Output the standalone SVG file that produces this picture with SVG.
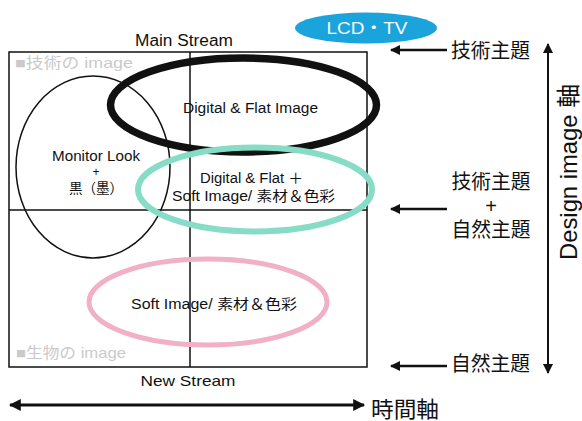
<svg xmlns="http://www.w3.org/2000/svg" width="582" height="421" viewBox="0 0 582 421">
<style>
  .t{font-family:"Liberation Sans","Noto Sans CJK JP",sans-serif;fill:#111}
  .s{font-size:14px;text-anchor:middle}
  .ax{font-size:20px}
  .g{font-size:15px;fill:#cacaca}
  .ln{stroke:#111;fill:none}
</style>
<defs>
  <marker id="ah" viewBox="0 0 10 10" refX="9" refY="5" markerWidth="4" markerHeight="4" orient="auto-start-reverse" markerUnits="strokeWidth">
    <path d="M0,0 L10,5 L0,10 z" fill="#111"/>
  </marker>
  <marker id="ah2" viewBox="0 0 10 10" refX="9" refY="5" markerWidth="5" markerHeight="5" orient="auto-start-reverse" markerUnits="strokeWidth">
    <path d="M0,0 L10,5 L0,10 z" fill="#111"/>
  </marker>
</defs>
<rect width="582" height="421" fill="#fff"/>

<g id="frame">
  <rect x="9" y="52" width="358" height="315" class="ln" stroke-width="1.5"/>
  <line x1="190" y1="52" x2="190" y2="367" class="ln" stroke-width="1.5"/>
  <line x1="9" y1="210" x2="367" y2="210" class="ln" stroke-width="1.5"/>
  <text x="15" y="68" class="t g" textLength="118" lengthAdjust="spacingAndGlyphs">■技術の image</text>
  <text x="16" y="358" class="t g" textLength="110" lengthAdjust="spacingAndGlyphs">■生物の image</text>
  <text x="184" y="46" class="t" font-size="16" text-anchor="middle" textLength="98" lengthAdjust="spacingAndGlyphs">Main Stream</text>
  <text x="188" y="386" class="t" font-size="15" text-anchor="middle" textLength="95" lengthAdjust="spacingAndGlyphs">New Stream</text>
</g>

<g id="lcd-tv">
  <ellipse cx="366" cy="28" rx="71" ry="15.5" fill="#1ba3dc"/>
  <text x="367" y="34" font-family="Liberation Sans, Noto Sans CJK JP, sans-serif" font-size="17" fill="#fff" text-anchor="middle" textLength="81" lengthAdjust="spacingAndGlyphs">LCD・TV</text>
</g>

<g id="monitor-look">
  <ellipse cx="93" cy="167" rx="77" ry="91" class="ln" stroke-width="1.5"/>
  <text x="96" y="161" class="t s" textLength="88" lengthAdjust="spacingAndGlyphs">Monitor Look</text>
  <text x="96" y="176" class="t" font-size="12" text-anchor="middle">+</text>
  <text x="96" y="193" class="t s" textLength="54" lengthAdjust="spacingAndGlyphs">黒（墨）</text>
</g>

<g id="digital-flat">
  <ellipse cx="243.5" cy="105" rx="133" ry="47" class="ln" stroke-width="7.5"/>
  <text x="250.5" y="113" class="t s" textLength="135" lengthAdjust="spacingAndGlyphs">Digital &amp; Flat Image</text>
</g>

<g id="digital-soft">
  <ellipse cx="255" cy="189.5" rx="117" ry="42" fill="none" stroke="#86dcc6" stroke-width="6"/>
  <text x="251.5" y="183" class="t s" textLength="103" lengthAdjust="spacingAndGlyphs">Digital &amp; Flat ＋</text>
  <text x="253.5" y="201" class="t s" textLength="163" lengthAdjust="spacingAndGlyphs">Soft Image/ 素材＆色彩</text>
</g>

<g id="soft-image">
  <ellipse cx="208" cy="302" rx="119" ry="43" fill="none" stroke="#f2b0c6" stroke-width="5"/>
  <text x="214" y="309" class="t s" textLength="166" lengthAdjust="spacingAndGlyphs">Soft Image/ 素材＆色彩</text>
</g>

<g id="labels">
  <text x="451" y="58" class="t ax" textLength="79" lengthAdjust="spacingAndGlyphs">技術主題</text>
  <text x="491" y="189" class="t ax" text-anchor="middle" textLength="79" lengthAdjust="spacingAndGlyphs">技術主題</text>
  <text x="491" y="213" class="t ax" text-anchor="middle">+</text>
  <text x="491" y="237" class="t ax" text-anchor="middle" textLength="79" lengthAdjust="spacingAndGlyphs">自然主題</text>
  <text x="451" y="371" class="t ax" textLength="79" lengthAdjust="spacingAndGlyphs">自然主題</text>
  <text x="371" y="417" class="t" font-size="22" textLength="68" lengthAdjust="spacingAndGlyphs">時間軸</text>
  <text transform="translate(577,172) rotate(-90)" class="t" font-size="24" text-anchor="middle" textLength="176" lengthAdjust="spacingAndGlyphs">Design image 軸</text>
</g>

<g id="connectors">
  <line x1="447" y1="50" x2="391" y2="50" class="ln" stroke-width="2.5" marker-end="url(#ah)"/>
  <line x1="447" y1="209" x2="391" y2="209" class="ln" stroke-width="2.5" marker-end="url(#ah)"/>
  <line x1="447" y1="366" x2="391" y2="366" class="ln" stroke-width="2.5" marker-end="url(#ah)"/>
  <line x1="548" y1="44" x2="548" y2="373" class="ln" stroke-width="2" marker-start="url(#ah2)" marker-end="url(#ah2)"/>
  <line x1="10" y1="405" x2="364" y2="405" class="ln" stroke-width="3" marker-start="url(#ah)" marker-end="url(#ah)"/>
</g>
</svg>
